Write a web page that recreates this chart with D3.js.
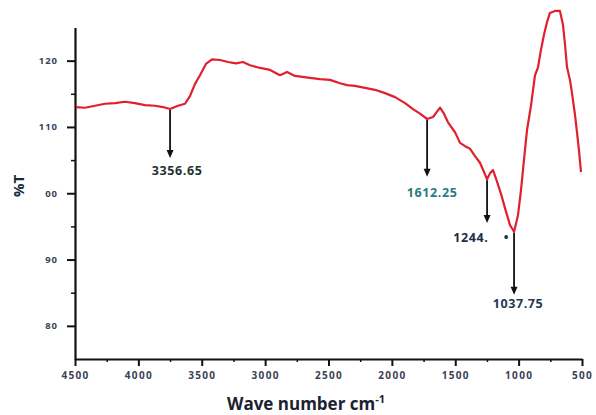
<!DOCTYPE html>
<html>
<head>
<meta charset="utf-8">
<script src="https://cdn.jsdelivr.net/npm/d3@7"></script>
<style>
  html, body { margin: 0; padding: 0; background: #fff; }
  svg { display: block; }
  text { white-space: pre; }
</style>
</head>
<body>
<svg id="chart" width="596" height="415"></svg>
<script>
// ---- data ----
const wavenumbers = [4492, 4421, 4342, 4263, 4184, 4106, 4027, 3948, 3869, 3806, 3750, 3687, 3632, 3592, 3553, 3514, 3467, 3419, 3356, 3293, 3230, 3175, 3119, 3040, 2961, 2883, 2827, 2764, 2646, 2567, 2488, 2409, 2354, 2291, 2212, 2133, 2054, 1975, 1896, 1833, 1778, 1722, 1675, 1644, 1620, 1589, 1557, 1502, 1462, 1423, 1383, 1344, 1305, 1273, 1249, 1226, 1202, 1171, 1139, 1108, 1068, 1036, 1005, 981, 958, 934, 902, 871, 847, 824, 800, 776, 753, 713, 674, 650, 634, 618, 595, 579, 555, 539, 524, 508];
const transmittance = [113.0, 112.9, 113.2, 113.5, 113.6, 113.8, 113.6, 113.3, 113.2, 113.0, 112.7, 113.2, 113.5, 114.7, 116.5, 117.8, 119.5, 120.2, 120.1, 119.8, 119.6, 119.8, 119.3, 118.9, 118.6, 117.8, 118.3, 117.7, 117.4, 117.2, 117.1, 116.6, 116.3, 116.2, 115.9, 115.6, 115.1, 114.5, 113.6, 112.7, 112.0, 111.2, 111.5, 112.3, 112.9, 112.0, 110.7, 109.2, 107.6, 107.1, 106.7, 105.6, 104.6, 103.2, 102.1, 103.0, 103.5, 101.8, 99.9, 97.8, 95.2, 94.2, 96.7, 100.5, 105.0, 109.5, 113.3, 117.8, 119.0, 121.6, 123.9, 125.8, 127.2, 127.5, 127.5, 125.4, 122.4, 119.0, 117.1, 115.1, 111.8, 109.1, 106.5, 103.2];

const xTickValues = [4500, 4000, 3500, 3000, 2500, 2000, 1500, 1000, 500];
const xTickLabels = ["4500", "4000", "3500", "3000", "2500", "2000", "1500", "1000", "500"];
const xMinorTicks = [4250, 3750, 3250, 2750, 2250, 1750, 1250, 750];
const yTickValues = [80, 90, 100, 110, 120];
const yTickLabels = ["80", "90", "00", "110", "120"];
const yMinorTicks = [85, 95, 105, 115];

// peak annotations: arrow position (wavenumber), arrow tip (%T), label text
const peakWavenumbers = [3750, 1722, 1249, 1036];
const peakArrowEnds = [105.3, 102.5, 95.5, 84.7];
const peakLabels = ["3356.65", "1612.25", "1244.    \u2022", "1037.75"];

// ---- layout ----
const svg = d3.select("#chart");
const x = d3.scaleLinear().domain([4500, 500]).range([75, 582]);
const y = d3.scaleLinear().domain([75, 125]).range([359, 27.5]);

const tickFont = "'Open Sans', 'DejaVu Sans', sans-serif";

// x axis minor
svg.append("g").attr("transform", `translate(0,${y(75)})`)
  .call(d3.axisBottom(x).tickValues(xMinorTicks).tickSize(3).tickSizeOuter(0).tickFormat(""))
  .call(g => g.select(".domain").remove())
  .call(g => g.selectAll("line").attr("stroke", "#111").attr("stroke-width", 1.5));

// x axis major
const xAxis = svg.append("g").attr("transform", `translate(0,${y(75)})`)
  .call(d3.axisBottom(x).tickValues(xTickValues).tickSize(7).tickSizeOuter(0)
    .tickFormat((d, i) => xTickLabels[i]));
xAxis.select(".domain").attr("stroke", "#111").attr("stroke-width", 2.2);
xAxis.selectAll(".tick line").attr("stroke", "#111").attr("stroke-width", 2);
xAxis.selectAll(".tick text")
  .attr("y", 13).attr("dy", "0.71em")
  .attr("font-family", tickFont).attr("font-size", 10).attr("font-weight", 700)
  .attr("letter-spacing", 1.3).attr("fill", "#3a4152");

// y axis minor
svg.append("g").attr("transform", `translate(${x(4500)},0)`)
  .call(d3.axisLeft(y).tickValues(yMinorTicks).tickSize(4).tickSizeOuter(0).tickFormat(""))
  .call(g => g.select(".domain").remove())
  .call(g => g.selectAll("line").attr("stroke", "#111").attr("stroke-width", 1.5));

// y axis major
const yAxis = svg.append("g").attr("transform", `translate(${x(4500)},0)`)
  .call(d3.axisLeft(y).tickValues(yTickValues).tickSize(8).tickSizeOuter(0)
    .tickFormat((d, i) => yTickLabels[i]));
yAxis.select(".domain").attr("stroke", "#111").attr("stroke-width", 2.2);
yAxis.selectAll(".tick line").attr("stroke", "#111").attr("stroke-width", 2);
yAxis.selectAll(".tick text")
  .attr("x", -17)
  .attr("font-family", tickFont).attr("font-size", 9.5).attr("font-weight", 700)
  .attr("letter-spacing", 1).attr("fill", "#3a4152");

// spectrum line
const pts = wavenumbers.map((w, i) => [w, transmittance[i]]);
svg.append("path")
  .datum(pts)
  .attr("fill", "none")
  .attr("stroke", "#e0202e")
  .attr("stroke-width", 2.2)
  .attr("stroke-linejoin", "round")
  .attr("d", d3.line().x(d => x(d[0])).y(d => y(d[1])));

// annotations
const interpT = w => {
  for (let i = 0; i < wavenumbers.length - 1; i++) {
    const a = wavenumbers[i], b = wavenumbers[i + 1];
    if ((w <= a && w >= b)) {
      const t = (a - w) / (a - b);
      return transmittance[i] + t * (transmittance[i + 1] - transmittance[i]);
    }
  }
  return transmittance[0];
};
const labelDx = [7, 5, -6, 4];
const labelDy = [17, 20, 19, 13];
const labelColors = ["#1f3236", "#2a7a82", "#1d2e45", "#1f3a52"];
peakWavenumbers.forEach((w, i) => {
  const px = x(w);
  const y0 = y(interpT(w)) + 1;
  const y1 = y(peakArrowEnds[i]);
  svg.append("line")
    .attr("x1", px).attr("x2", px).attr("y1", y0).attr("y2", y1 - 6)
    .attr("stroke", "#111").attr("stroke-width", 1.8);
  svg.append("path")
    .attr("d", `M${px - 3.5},${y1 - 8} L${px + 3.5},${y1 - 8} L${px},${y1} Z`)
    .attr("fill", "#111");
  svg.append("text")
    .attr("x", px + labelDx[i]).attr("y", y1 + labelDy[i])
    .attr("text-anchor", "middle")
    .attr("font-family", tickFont).attr("font-size", 12.5).attr("font-weight", 700)
    .attr("letter-spacing", 0.6)
    .attr("fill", labelColors[i])
    .text(peakLabels[i]);
});

// axis titles
const xt = svg.append("text")
  .attr("x", 306).attr("y", 410)
  .attr("text-anchor", "middle")
  .attr("font-family", tickFont).attr("font-size", 17).attr("font-weight", 700)
  .attr("fill", "#1b2230");
xt.append("tspan").text("Wave number cm");
xt.append("tspan").attr("dy", -7).attr("font-size", 11).text("-1");

svg.append("text")
  .attr("transform", "translate(24,186) rotate(-90)")
  .attr("text-anchor", "middle")
  .attr("font-family", tickFont).attr("font-size", 15).attr("font-weight", 700)
  .attr("fill", "#1b2a3a")
  .text("%T");
</script>
</body>
</html>
